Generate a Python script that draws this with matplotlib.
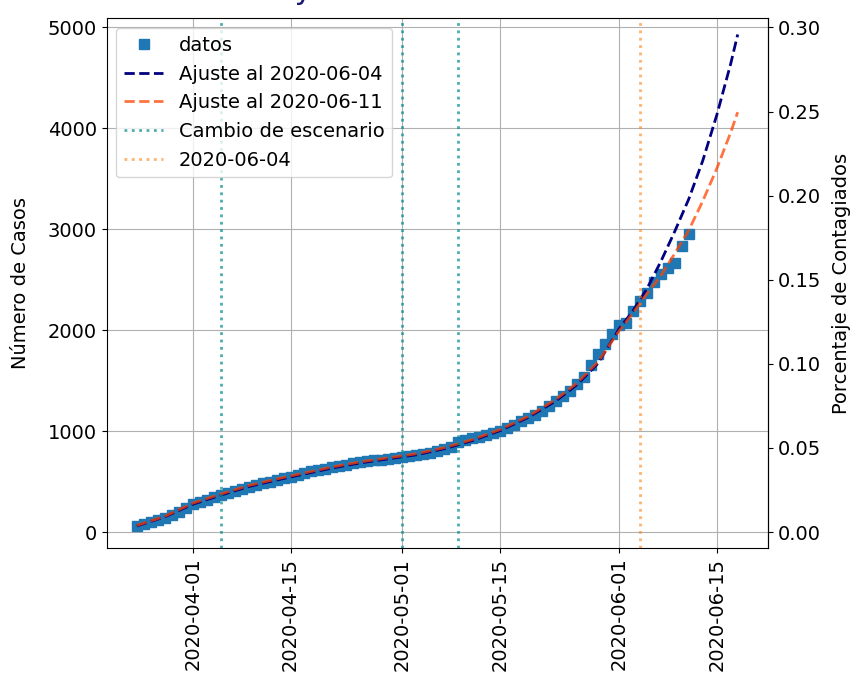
import numpy as np
import pandas as pd
import matplotlib
matplotlib.use("Agg")
import matplotlib.pyplot as plt
import matplotlib.dates as mdates


# ----- Data -----
start_date = "2020-03-24"
casos = [
    55, 80, 100, 120, 140, 165, 200, 240,                      # Mar 24-31
    280, 300, 320, 345, 365, 385, 410, 430, 450, 470,          # Apr 1-10
    490, 500, 520, 535, 550, 565, 580, 600, 610, 625,          # Apr 11-20
    640, 655, 665, 680, 695, 705, 710, 715, 720, 730,          # Apr 21-30
    740, 750, 760, 775, 785, 800, 820, 845, 890, 910,          # May 1-10
    930, 945, 960, 985, 1000, 1030, 1060, 1100, 1130, 1160,    # May 11-20
    1200, 1250, 1300, 1350, 1400, 1470, 1540, 1650, 1760, 1860,  # May 21-30
    1960,                                                      # May 31
    2050, 2075, 2190, 2290, 2370, 2480, 2560, 2620, 2670, 2830, 2950,  # Jun 1-11
]

fechas_ajuste = [
    "2020-03-24", "2020-03-28", "2020-04-01", "2020-04-05", "2020-04-09",
    "2020-04-13", "2020-04-17", "2020-04-21", "2020-04-25", "2020-04-29",
    "2020-05-03", "2020-05-07", "2020-05-11", "2020-05-15", "2020-05-19",
    "2020-05-23", "2020-05-26", "2020-05-29", "2020-06-01", "2020-06-03",
    "2020-06-05", "2020-06-07", "2020-06-09", "2020-06-11", "2020-06-13",
    "2020-06-15", "2020-06-17", "2020-06-18",
]
ajuste_0604 = [
    60, 150, 275, 365, 450, 515, 575, 635, 685, 725,
    765, 825, 905, 1005, 1135, 1300, 1460, 1670, 2010, 2190,
    2410, 2680, 2980, 3300, 3680, 4130, 4640, 4930,
]
ajuste_0611 = [
    65, 155, 285, 375, 460, 525, 585, 645, 695, 735,
    775, 835, 915, 1015, 1145, 1315, 1475, 1685, 1990, 2170,
    2360, 2540, 2760, 2990, 3280, 3600, 3960, 4160,
]

cambios_escenario = ["2020-04-05", "2020-05-01", "2020-05-09"]
fecha_ajuste = "2020-06-04"
poblacion = 1666667  # 5000 casos <-> 0.30 %

fechas = pd.date_range(start_date, periods=len(casos), freq="D")

# ----- Plot -----
plt.rcParams["font.size"] = 14
fig = plt.figure(figsize=(8.54, 6.79), dpi=100)
ax = fig.add_axes([0.125, 0.193, 0.774, 0.780])

ax.plot(fechas, casos, "s", color="tab:blue", markersize=7, label="datos")
ax.plot(pd.to_datetime(fechas_ajuste), ajuste_0604, "--", color="navy",
        linewidth=2, label="Ajuste al 2020-06-04")
ax.plot(pd.to_datetime(fechas_ajuste), ajuste_0611, "--", color="orangered",
        alpha=0.75, linewidth=2, label="Ajuste al 2020-06-11")

for i, f in enumerate(cambios_escenario):
    ax.axvline(pd.Timestamp(f), color="darkcyan", alpha=0.7, linestyle=":",
               linewidth=2, label="Cambio de escenario" if i == 0 else None)
ax.axvline(pd.Timestamp(fecha_ajuste), color="tab:orange", alpha=0.6,
           linestyle=":", linewidth=2, label=fecha_ajuste)

ax.set_ylim(-158, 5090)
ax.set_ylabel("Número de Casos", labelpad=13)
ax.xaxis.set_major_locator(mdates.DayLocator(bymonthday=[1, 15]))
ax.xaxis.set_major_formatter(mdates.DateFormatter("%Y-%m-%d"))
plt.setp(ax.get_xticklabels(), rotation=90)
ax.grid(True)
ax.legend(loc="upper left")

ax2 = ax.secondary_yaxis("right", functions=(lambda x: x / poblacion * 100,
                                             lambda p: p * poblacion / 100))
ax2.set_yticks([0.0, 0.05, 0.10, 0.15, 0.20, 0.25, 0.30])
ax2.yaxis.set_major_formatter(matplotlib.ticker.FormatStrFormatter("%.2f"))
ax2.set_ylabel("Porcentaje de Contagiados", labelpad=8)

# title is mostly cut off at the top of the reference
fig.text(0.0, 1.0 + 1.0 / 679, "Casos acumulados y modelo", color="#1a1a6e",
         fontsize=22, va="baseline", ha="left")

fig.savefig("out.png", dpi=100)
